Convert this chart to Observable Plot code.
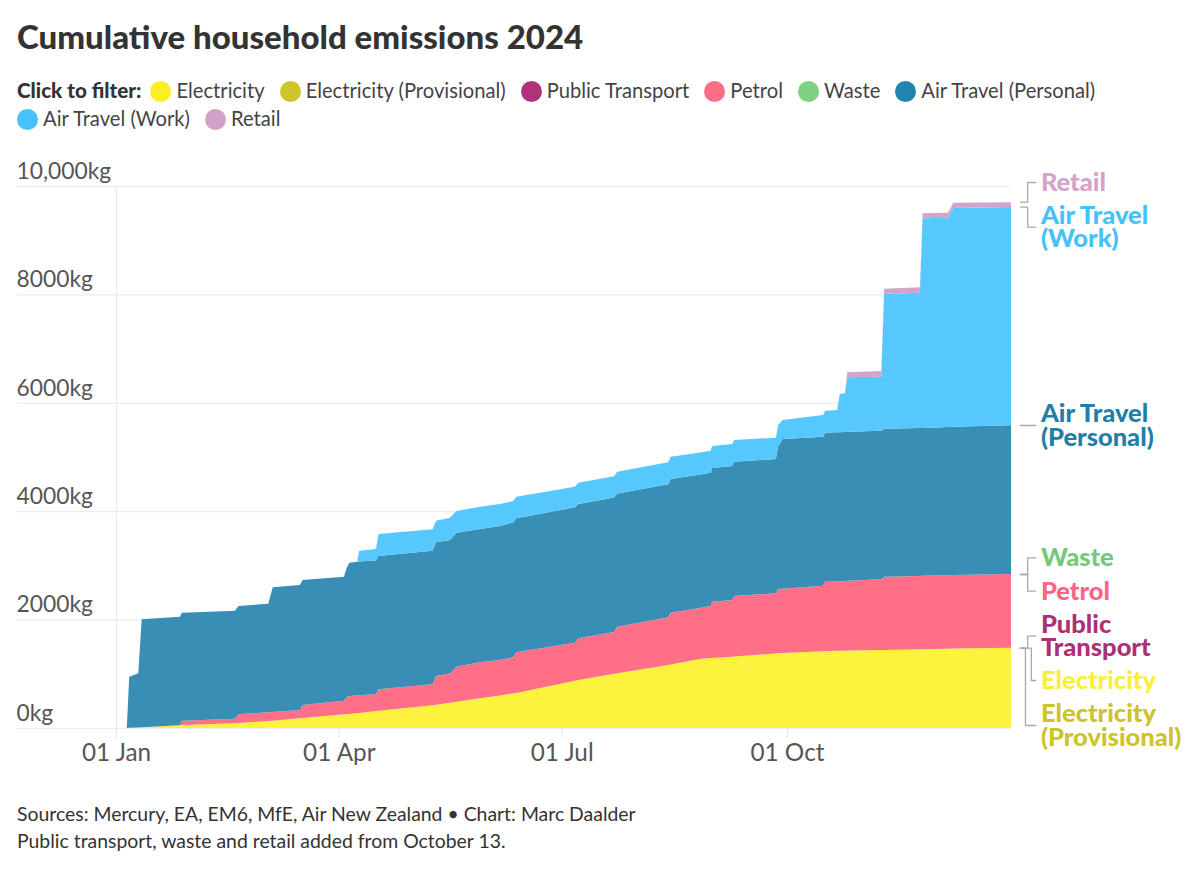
<!DOCTYPE html>
<html><head><meta charset="utf-8">
<script src="https://cdn.jsdelivr.net/npm/d3@7"></script>
<script src="https://cdn.jsdelivr.net/npm/@observablehq/plot@0.6"></script>
<style>
html,body{margin:0;padding:0;background:#fff;width:1200px;height:869px;overflow:hidden;font-family:Lato,sans-serif;color:#333}
#title{position:absolute;left:17px;top:16px;font-size:33px;font-weight:900;line-height:40px;color:#333;white-space:nowrap}
#legend{position:absolute;left:17px;top:77px;width:1130px;font-size:20.2px;line-height:27.5px;color:#444}
#legend b{color:#333;margin-right:9px;font-weight:900;font-size:20.6px}
#legend .it{display:inline-block;margin-right:15px;white-space:nowrap}
#legend i{display:inline-block;width:21px;height:21px;border-radius:50%;vertical-align:-4px;margin-right:5px}
#chart{position:absolute;left:0;top:150px}
#caption{position:absolute;left:17px;top:800px;font-size:19.4px;line-height:27px;color:#333}
</style></head><body>
<div id="title"></div><div id="legend"></div><div id="chart"></div><div id="caption"></div>
<script>
const titleText="Cumulative household emissions 2024";
const captionLines=["Sources: Mercury, EA, EM6, MfE, Air New Zealand • Chart: Marc Daalder","Public transport, waste and retail added from October 13."];
const legendNames=["Electricity","Electricity (Provisional)","Public Transport","Petrol","Waste","Air Travel (Personal)","Air Travel (Work)","Retail"];
const legendColors=["#fcee21","#cfc42a","#b03378","#fd6d86","#7fd17f","#1f85ad","#45c1fb","#d2a1c8"];

// days elapsed since 1 Jan 2024
const days=[4.4,5.4,9.1,10.5,26.1,26.8,27.2,48.6,50,62.2,64,75.1,76.2,93.1,94.2,95.3,98.5,99.3,105.4,106.2,107.2,129.3,130.7,136.4,139,148.6,156.8,162.2,163.5,187.4,188.8,203.4,204.7,225.5,226.5,238.5,242.8,243.5,251.7,252.4,269.5,270.4,272.2,288.8,289.6,294.5,295.6,297.7,298.6,312.5,313.7,328.3,329.4,339.8,341.9,365.5];
// kg CO2e, cumulative per source
const electricity=[0,5,10,12,50,53,55,86,90,130,135,179,183,252,256,260,275,278,310,313,316,420,428,467,483,548,600,640,648,870,886,1000,1010,1162,1172,1273,1290,1293,1315,1317,1375,1378,1383,1415,1417,1423,1424,1427,1428,1439,1440,1452,1453,1463,1465,1482];
const petrol=[0,0,0,0,0,82,80,86,162,162,162,153,241,252,322,325,328,327,315,314,398,386,531,538,648,664,655,664,749,704,769,771,859,880,955,942,961,1037,1047,1118,1110,1187,1187,1210,1282,1282,1283,1285,1287,1304,1350,1353,1354,1357,1358,1359];
const airPersonal=[0,941,1000,1993,2004,1985,1992,1993,1999,2001,2299,2306,2306,2287,2372,2465,2465,2466,2467,2467,2459,2464,2466,2462,2472,2460,2472,2491,2472,2498,2478,2482,2458,2454,2467,2460,2459,2467,2472,2478,2478,2625,2762,2749,2749,2750,2751,2751,2751,2742,2730,2730,2730,2735,2735,2744];
const airWork=[0,0,0,0,0,0,0,0,0,0,0,0,0,0,0,0,0,200,205,216,406,399,397,413,400,411,406,393,398,380,393,392,402,406,411,410,406,406,406,401,393,400,351,401,406,412,704,712,1004,996,2487,2496,3867,3860,4036,4027];
const retail=[0,0,0,0,0,0,0,0,0,0,0,0,0,0,0,0,0,0,0,0,0,0,0,0,0,0,0,0,0,0,0,0,0,0,0,0,0,0,0,0,0,0,0,0,0,0,0,0,95,104,98,99,91,90,96,88];

const seriesNames=["Electricity","Petrol","Air Travel (Personal)","Air Travel (Work)","Retail"];
const seriesValues=[electricity,petrol,airPersonal,airWork,retail];
const areaColors=["#fdf23d","#ff7088","#388eb5","#57c8fd","#d1a5c9"];

const yTicks=[0,2000,4000,6000,8000,10000];
const yTickLabels=["0kg","2000kg","4000kg","6000kg","8000kg","10,000kg"];
const xTicks=["2024-01-01","2024-04-01","2024-07-01","2024-10-01"];

// right-hand labels: text, colour, kg level of the label, kg level where the leader starts, elbow day
const labelTexts=["Retail","Air Travel\n(Work)","Air Travel\n(Personal)","Waste","Petrol","Public\nTransport","Electricity","Electricity\n(Provisional)"];
const labelColors=["#d3a3c8","#45c1fb","#1f7fa9","#74c97a","#fd6484","#ad3076","#f9ee3a","#cdc32b"];
const labelLevels=[10074,9249,5590,3149,2533,1703,886,55];
const leaderStarts=[9710,9618,5590,2841,2841,1482,1482,1482];
const leaderElbows=[372.1,372.1,372.1,372.1,372.1,372.1,373.6,371.2];
const leaderFrom=369.1, leaderTo=375.4, labelDay=377.5;

const toDate=d=>new Date(Date.UTC(2024,0,1)+d*864e5);
const rows=seriesNames.flatMap((s,i)=>days.map((d,j)=>({series:s,date:toDate(d),value:seriesValues[i][j]})));
const leaders=labelTexts.flatMap((t,i)=>[
  [leaderFrom,leaderStarts[i]],[leaderElbows[i],leaderStarts[i]],[leaderElbows[i],labelLevels[i]],[leaderTo,labelLevels[i]]
].map(([d,v])=>({id:t,date:toDate(d),value:v})));
const labels=labelTexts.map((t,i)=>({text:t,color:labelColors[i],level:labelLevels[i]}));

document.getElementById("title").textContent=titleText;
document.getElementById("caption").innerHTML=captionLines.join("<br>");
document.getElementById("legend").innerHTML="<b>Click to filter:</b>"+legendNames.map((n,i)=>
  `<span class="it"><i style="background:${legendColors[i]}"></i>${n}</span>`).join("");

const chart=Plot.plot({
  width:1200,height:630,marginTop:36,marginBottom:52,marginLeft:116,marginRight:189,
  style:{fontFamily:"Lato,sans-serif",background:"#fff",overflow:"visible"},
  x:{type:"utc",domain:[toDate(0),toDate(365.5)]},
  y:{domain:[0,10000]},
  color:{domain:seriesNames,range:areaColors},
  marks:[
    Plot.ruleY(yTicks,{x1:toDate(-40.4),x2:toDate(365.5),stroke:"#ececec",strokeWidth:1.2}),
    Plot.ruleX([toDate(0)],{y1:0,y2:10000,stroke:"#ececec",strokeWidth:1.2}),
    Plot.areaY(rows,{x:"date",y:"value",fill:"series",order:seriesNames}),
    Plot.axisX(xTicks.map(d=>new Date(d)),{tickFormat:d3.utcFormat("%d %b"),tickSize:10,tickPadding:5,stroke:"#e5e5e5",fill:"#555",fontSize:24.3,label:null}),
    Plot.axisY(yTicks,{tickFormat:d=>yTickLabels[yTicks.indexOf(d)],tickSize:0,tickPadding:0,textAnchor:"start",dx:-100,dy:-15,fill:"#555",fontSize:22.8,label:null}),
    Plot.line(leaders,{x:"date",y:"value",z:"id",stroke:"#aaa",strokeWidth:1.3,curve:"linear"}),
    Plot.text(labels,{x:()=>toDate(labelDay),y:"level",dy:1,text:"text",fill:"color",textAnchor:"start",fontSize:25.5,fontWeight:900,lineHeight:0.92})
  ]
});
document.getElementById("chart").appendChild(chart);
</script>
</body></html>
